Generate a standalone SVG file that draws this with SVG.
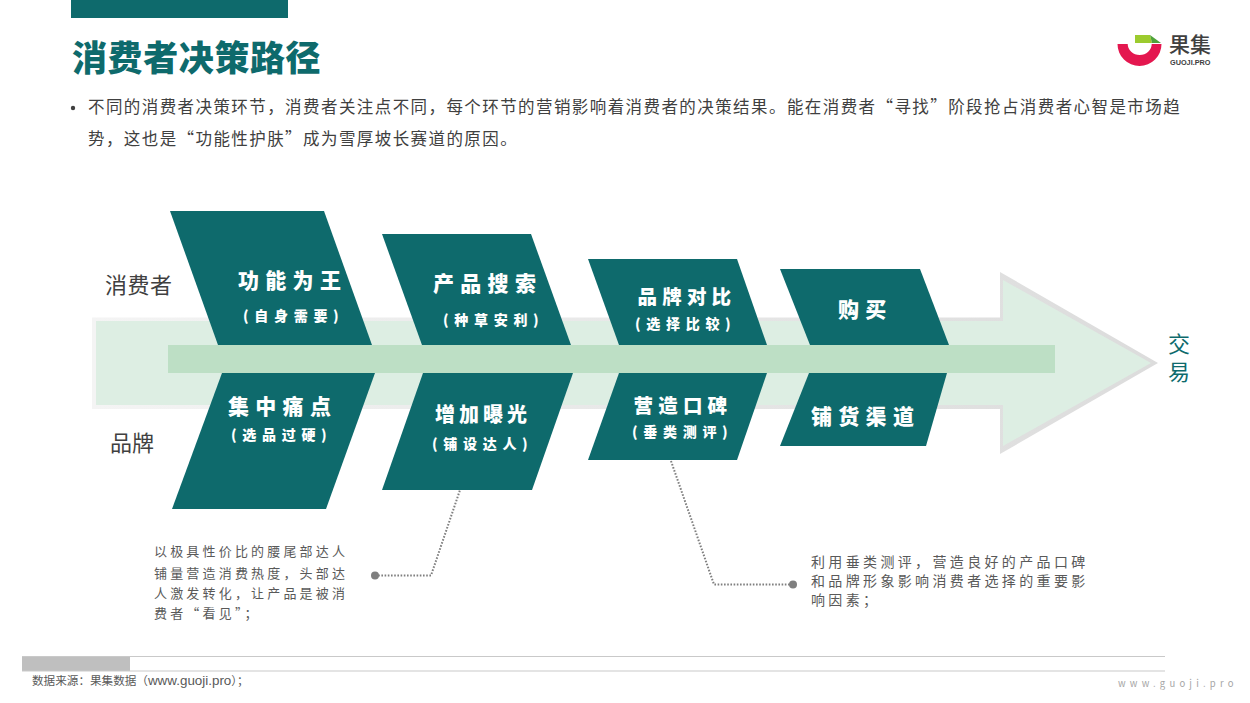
<svg xmlns="http://www.w3.org/2000/svg" width="1250" height="703" viewBox="0 0 1250 703" lang="zh-CN">
<defs><linearGradient id="sh" x1="0" y1="0" x2="1" y2="0"><stop offset="0" stop-color="#F4F4F4"/><stop offset="1" stop-color="#DCDCDC"/></linearGradient></defs>
<style>
text{font-family:"Noto Sans CJK SC","Noto Sans",sans-serif}
.s{fill:#0E6A6C}
.h{fill:#fff;font-weight:900;font-size:21px;letter-spacing:6.3px}
.h2{fill:#fff;font-weight:900;font-size:14px;letter-spacing:5.7px}
.body{fill:#404040;font-size:16.5px;letter-spacing:1.42px}
.side{fill:#404040;font-size:22px}
.note{fill:#595959;font-size:13px;letter-spacing:3.18px}
.note2{fill:#595959;font-size:14px;letter-spacing:3.35px}
.dot{fill:none;stroke:#7F7F7F;stroke-width:2;stroke-dasharray:1.6 1.6}
.rule{stroke:#C9C9C9;stroke-width:1.2}
</style>
<rect x="71" y="0" width="217" height="18" fill="#0E6A6C"/>
<text x="72" y="71" fill="#0E6A6C" font-size="35" font-weight="900" letter-spacing="0.6">消费者决策路径</text>
<circle cx="73" cy="108" r="2.200" fill="#404040"/>
<text class="body" x="88" y="113">不同的消费者决策环节，消费者关注点不同，每个环节的营销影响着消费者的决策结果。能在消费者“寻找”阶段抢占消费者心智是市场趋</text>
<text class="body" x="88" y="145">势，这也是“功能性护肤”成为雪厚坡长赛道的原因。</text>
<g id="logo">
<path d="M1117.500 44H1127.700A12 11 0 0 0 1151.700 44H1161.500A22 22 0 0 1 1117.500 44Z" fill="#E4174F"/>
<path d="M1135 35H1150L1152 43H1135Z" fill="#9CCB2E"/>
<path d="M1150 35L1161 43H1152Z" fill="#4FA33A"/>
<text x="1169" y="52" font-size="21" font-weight="500" fill="#404040">果集</text>
<text x="1170" y="65" font-size="7.300" font-weight="700" fill="#404040" style="font-family:'Liberation Sans',sans-serif">GUOJI.PRO</text>
</g>
<g id="arrow">
<path d="M92 317.500H1000V272L1158 363L1000 454V409H92Z" fill="url(#sh)"/>
<path d="M96 321H1003V280L1151 363L1003 446V405H96Z" fill="#DDEEE3"/>
<rect x="168" y="345" width="887" height="28" fill="#BDDFC5"/>
</g>
<text class="side" x="105" y="293" letter-spacing="0.5">消费者</text>
<text class="side" x="110" y="451">品牌</text>
<text x="1168" y="352" font-size="22" fill="#0E6A6C">交</text>
<text x="1168" y="380" font-size="22" fill="#0E6A6C">易</text>
<g id="n1"><path class="s" d="M170 211H324L372 345H218Z"/><text class="h" x="238" y="288">功能为王</text><text class="h2" x="243" y="321">(自身需要)</text></g>
<g id="n2"><path class="s" d="M382 234H531L571 345H422Z"/><text class="h" x="433" y="291">产品搜索</text><text class="h2" x="443" y="325">(种草安利)</text></g>
<g id="n3"><path class="s" d="M588 259H737L767 345H619Z"/><text class="h" x="637.500" y="304" style="font-size:19.500px;letter-spacing:5.2px">品牌对比</text><text class="h2" x="635" y="329">(选择比较)</text></g>
<g id="n4"><path class="s" d="M780 269H920L949 345H810Z"/><text class="h" x="838" y="317">购买</text></g>
<g id="n5"><path class="s" d="M222 373H375L326 509H172Z"/><text class="h" x="228" y="414">集中痛点</text><text class="h2" x="231" y="440">(选品过硬)</text></g>
<g id="n6"><path class="s" d="M423 373H573L532 490H382Z"/><text class="h" x="435" y="422" style="font-size:20px;letter-spacing:4px">增加曝光</text><text class="h2" x="432" y="449">(铺设达人)</text></g>
<g id="n7"><path class="s" d="M619 373H767L737 460H588Z"/><text class="h" x="633.500" y="413" style="font-size:19.500px;letter-spacing:5.2px">营造口碑</text><text class="h2" x="632" y="437">(垂类测评)</text></g>
<g id="n8"><path class="s" d="M809 373H947L926 446H780Z"/><text class="h" x="811" y="424">铺货渠道</text></g>
<g id="connectors">
<path class="dot" d="M375 575.500H431L460 490"/>
<circle cx="375" cy="575.500" r="4" fill="#7F7F7F"/>
<path class="dot" d="M671 461L714 584.500H793"/>
<circle cx="793" cy="584.500" r="4" fill="#7F7F7F"/>
</g>
<g id="note1">
<text class="note" x="154" y="556">以极具性价比的腰尾部达人</text>
<text class="note" x="154" y="578">铺量营造消费热度，头部达</text>
<text class="note" x="154" y="598">人激发转化，让产品是被消</text>
<text class="note" x="154" y="618">费者“看见”；</text>
</g>
<g id="note2">
<text class="note2" x="811" y="567">利用垂类测评，营造良好的产品口碑</text>
<text class="note2" x="811" y="586">和品牌形象影响消费者选择的重要影</text>
<text class="note2" x="811" y="605">响因素；</text>
</g>
<g id="footer">
<rect x="22" y="656" width="108" height="15" fill="#BFBFBF"/>
<line class="rule" x1="22" y1="656.500" x2="1165" y2="656.500"/>
<line class="rule" x1="22" y1="671" x2="1165" y2="671"/>
<text x="32" y="685" font-size="11.600" fill="#595959" style="font-family:'Liberation Sans','Noto Sans CJK SC',sans-serif">数据来源：果集数据（<tspan font-size="13.400">www.guoji.pro</tspan>）；</text>
<text x="1118" y="687" font-size="9.500" fill="#A6A6A6" letter-spacing="4.200">www.guoji.pro</text>
</g>
</svg>
